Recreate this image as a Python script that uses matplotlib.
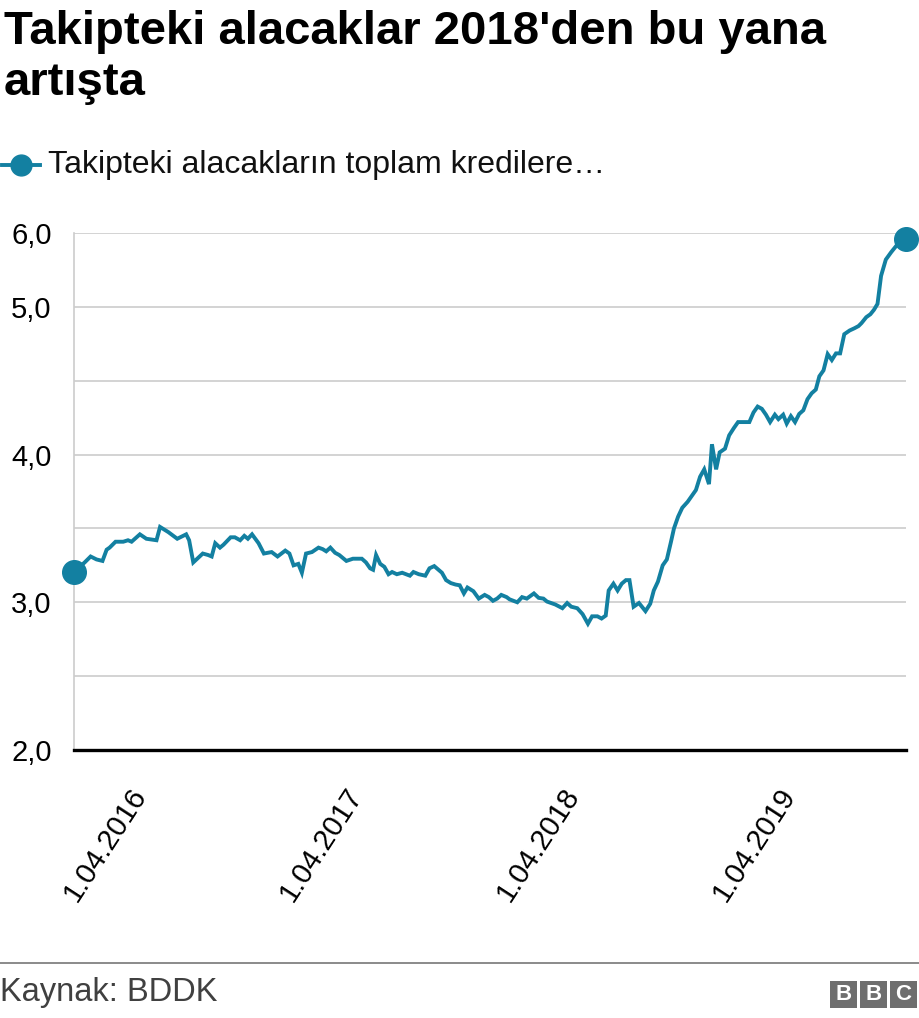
import matplotlib
matplotlib.use('Agg')
import matplotlib.pyplot as plt
import pandas as pd
from matplotlib.patches import Rectangle
from matplotlib.lines import Line2D

plt.rcParams['font.family'] = ['Liberation Sans', 'DejaVu Sans']

title = "Takipteki alacaklar 2018'den bu yana\nartışta"
series_name = 'Takipteki alacakların toplam kredilere…'
source = 'Kaynak: BDDK'

dates = [
    '2015-12-12', '2015-12-30', '2016-01-09', '2016-01-19', '2016-01-29', '2016-02-05',
    '2016-02-10', '2016-02-20', '2016-03-04', '2016-03-12', '2016-03-18', '2016-04-01',
    '2016-04-12', '2016-04-29', '2016-05-05', '2016-05-19', '2016-06-03', '2016-06-18',
    '2016-06-23', '2016-06-30', '2016-07-16', '2016-07-25', '2016-07-31', '2016-08-06',
    '2016-08-14', '2016-08-20', '2016-09-01', '2016-09-08', '2016-09-17', '2016-09-24',
    '2016-09-30', '2016-10-07', '2016-10-18', '2016-10-27', '2016-11-09', '2016-11-19',
    '2016-12-02', '2016-12-09', '2016-12-16', '2016-12-24', '2016-12-30', '2017-01-06',
    '2017-01-16', '2017-01-27', '2017-02-03', '2017-02-09', '2017-02-16', '2017-02-24',
    '2017-03-03', '2017-03-15', '2017-03-26', '2017-04-10', '2017-04-17', '2017-04-24',
    '2017-04-29', '2017-05-04', '2017-05-11', '2017-05-18', '2017-05-25', '2017-05-31',
    '2017-06-08', '2017-06-17', '2017-06-30', '2017-07-06', '2017-07-15', '2017-07-26',
    '2017-08-02', '2017-08-10', '2017-08-23', '2017-08-30', '2017-09-07', '2017-09-15',
    '2017-09-22', '2017-09-29', '2017-10-05', '2017-10-15', '2017-10-24', '2017-11-03',
    '2017-11-10', '2017-11-17', '2017-11-24', '2017-12-01', '2017-12-10', '2017-12-15',
    '2017-12-28', '2018-01-05', '2018-01-13', '2018-01-25', '2018-02-02', '2018-02-10',
    '2018-02-16', '2018-03-02', '2018-03-14', '2018-03-22', '2018-03-29', '2018-04-08',
    '2018-04-17', '2018-04-26', '2018-05-03', '2018-05-12', '2018-05-19', '2018-05-26',
    '2018-05-31', '2018-06-08', '2018-06-15', '2018-06-22', '2018-06-29', '2018-07-05',
    '2018-07-12', '2018-07-21', '2018-08-01', '2018-08-09', '2018-08-15', '2018-08-22',
    '2018-08-30', '2018-09-06', '2018-09-13', '2018-09-18', '2018-09-25', '2018-10-02',
    '2018-10-11', '2018-10-18', '2018-10-25', '2018-11-01', '2018-11-08', '2018-11-16',
    '2018-11-21', '2018-11-28', '2018-12-04', '2018-12-13', '2018-12-20', '2018-12-28',
    '2019-01-04', '2019-01-14', '2019-01-23', '2019-01-30', '2019-02-06', '2019-02-13',
    '2019-02-20', '2019-02-27', '2019-03-07', '2019-03-13', '2019-03-21', '2019-03-27',
    '2019-04-03', '2019-04-10', '2019-04-17', '2019-04-24', '2019-05-01', '2019-05-08',
    '2019-05-15', '2019-05-21', '2019-05-28', '2019-06-04', '2019-06-11', '2019-06-18',
    '2019-06-25', '2019-07-02', '2019-07-11', '2019-07-19', '2019-07-26', '2019-07-31',
    '2019-08-08', '2019-08-15', '2019-08-21', '2019-08-27', '2019-09-02', '2019-09-10',
    '2019-09-19', '2019-09-29', '2019-10-14',
]

values = [
    3.205, 3.27, 3.31, 3.29, 3.28, 3.356,
    3.37, 3.41, 3.41, 3.42, 3.41, 3.46,
    3.43, 3.42, 3.51, 3.475, 3.43, 3.46,
    3.42, 3.27, 3.33, 3.32, 3.31, 3.40,
    3.37, 3.39, 3.44, 3.44, 3.42, 3.45,
    3.43, 3.46, 3.40, 3.33, 3.34, 3.31,
    3.35, 3.33, 3.25, 3.26, 3.20, 3.33,
    3.34, 3.37, 3.36, 3.345, 3.37, 3.335,
    3.32, 3.28, 3.295, 3.295, 3.27, 3.23,
    3.22, 3.32, 3.26, 3.24, 3.19, 3.205,
    3.19, 3.20, 3.18, 3.205, 3.19, 3.18,
    3.23, 3.245, 3.20, 3.15, 3.13, 3.12,
    3.115, 3.06, 3.10, 3.075, 3.025, 3.05,
    3.035, 3.01, 3.025, 3.05, 3.035, 3.02,
    3.00, 3.035, 3.025, 3.06, 3.03, 3.025,
    3.005, 2.985, 2.96, 2.995, 2.97, 2.96,
    2.92, 2.855, 2.905, 2.905, 2.89, 2.91,
    3.08, 3.126, 3.08, 3.126, 3.15, 3.15,
    2.97, 2.995, 2.94, 2.99, 3.08, 3.14,
    3.25, 3.29, 3.41, 3.50, 3.58, 3.64,
    3.68, 3.72, 3.76, 3.85, 3.90, 3.80,
    4.07, 3.90, 4.015, 4.04, 4.13, 4.18,
    4.22, 4.22, 4.22, 4.285, 4.325, 4.31,
    4.27, 4.22, 4.27, 4.24, 4.27, 4.21,
    4.26, 4.22, 4.275, 4.30, 4.375, 4.415,
    4.44, 4.53, 4.57, 4.68, 4.64, 4.685,
    4.685, 4.815, 4.84, 4.855, 4.87, 4.89,
    4.93, 4.95, 4.98, 5.02, 5.21, 5.32,
    5.37, 5.42, 5.457,
]

y_ticks = [2.0, 2.5, 3.0, 3.5, 4.0, 4.5, 5.0, 5.5]
y_tick_labels = ['2,0', '', '3,0', '', '4,0', '', '5,0', '6,0']
x_ticks = ['2016-04-01', '2017-04-01', '2018-04-01', '2019-04-01']
x_tick_labels = ['1.04.2016', '1.04.2017', '1.04.2018', '1.04.2019']

color = '#1380a1'
grid_color = '#cccccc'

x = pd.to_datetime(dates)

fig = plt.figure(figsize=(9.2, 10.18), dpi=100)
ax = fig.add_axes([74 / 920, 1 - 750 / 1018, 832 / 920, 517 / 1018])

ax.plot(x, values, color=color, lw=2.8, solid_joinstyle='miter', zorder=3)
ax.plot([x[0], x[-1]], [values[0], values[-1]], 'o', color=color, ms=17, zorder=4, clip_on=False)

ax.set_xlim(x[0], x[-1])
ax.set_ylim(2.0, 5.5)
ax.set_yticks(y_ticks)
ax.set_yticklabels(y_tick_labels)
ax.set_xticks(pd.to_datetime(x_ticks))
ax.set_xticklabels(x_tick_labels, rotation=57, ha='right', va='center', rotation_mode='anchor')

ax.grid(axis='y', color=grid_color, lw=1.2, zorder=0)
ax.tick_params(axis='both', length=0, labelsize=21, colors='#000000')
ax.tick_params(axis='y', pad=16)
ax.tick_params(axis='x', pad=29)

for side in ['top', 'right']:
    ax.spines[side].set_visible(False)
ax.spines['left'].set_color(grid_color)
ax.spines['left'].set_linewidth(1.2)
ax.spines['bottom'].set_color('#000000')
ax.spines['bottom'].set_linewidth(2.4)
ax.spines['bottom'].set_zorder(5)

# title
fig.text(4 / 920, 1 - 10 / 1018, title, fontsize=34, fontweight='bold', va='top', ha='left',
         linespacing=1.2, color='#000000')

# legend
ly = 1 - 165 / 1018
fig.add_artist(Line2D([2 / 920, 40 / 920], [ly, ly], color=color, lw=2.8))
fig.add_artist(Line2D([21 / 920], [ly], marker='o', color=color, ms=15))
fig.text(48 / 920, ly, series_name, fontsize=23, va='center', ha='left', color='#111111')

# footer
fig.add_artist(Line2D([0, 1], [1 - 963 / 1018, 1 - 963 / 1018], color='#777777', lw=1.2))
fig.text(0, 1 - 993 / 1018, source, fontsize=23.5, va='center', ha='left', color='#404040')

bx = 830
for i, letter in enumerate('BBC'):
    x0 = (bx + i * 30) / 920
    fig.add_artist(Rectangle((x0, 1 - 1008 / 1018), 27 / 920, 27 / 1018, transform=fig.transFigure,
                             facecolor='#6e6e6e', edgecolor='none'))
    fig.text(x0 + 13.5 / 920, 1 - 994.5 / 1018, letter, fontsize=16, fontweight='bold',
             color='white', ha='center', va='center')

fig.savefig('out.png', dpi=100)
